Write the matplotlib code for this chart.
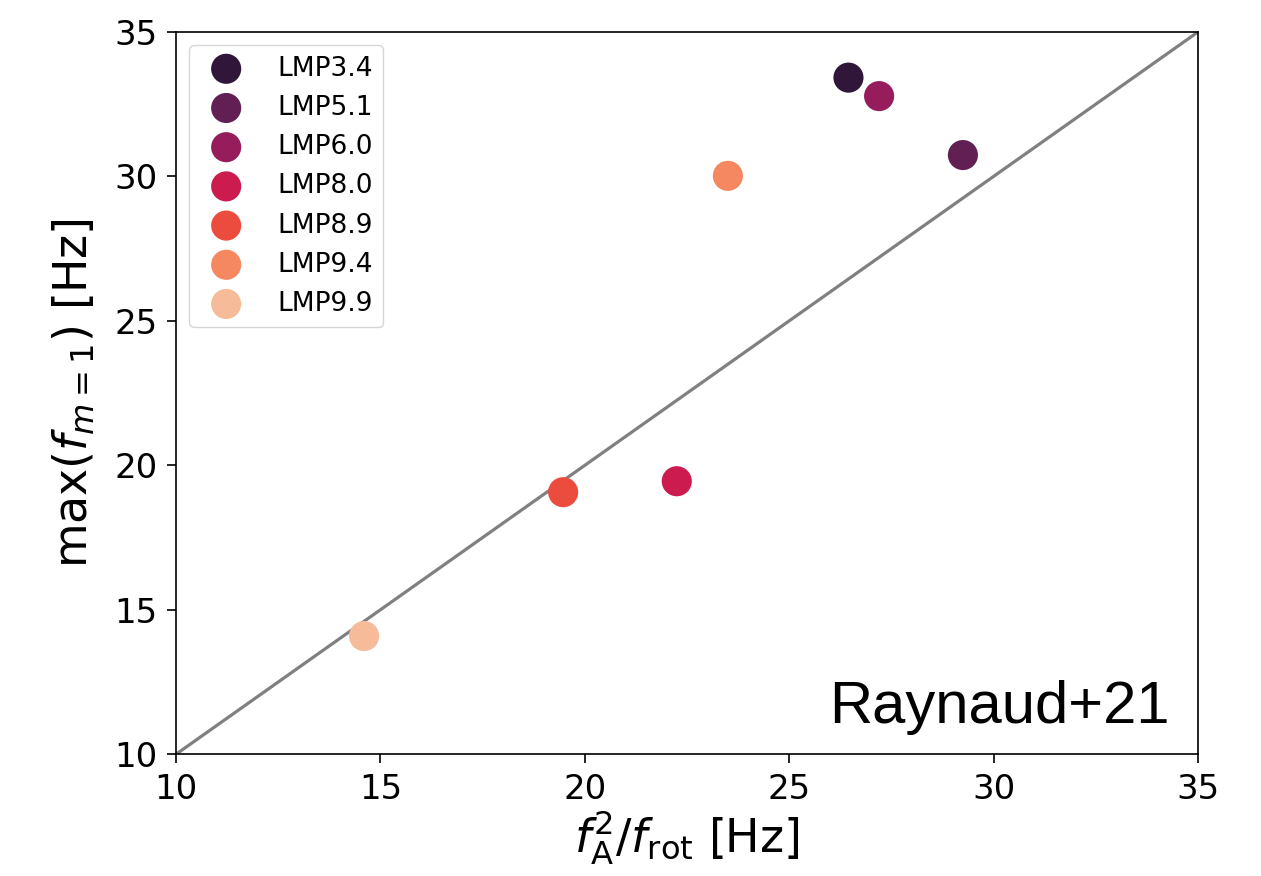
import matplotlib
matplotlib.use("Agg")
import matplotlib.pyplot as plt
import seaborn as sns
import numpy as np

# data
models = ["LMP3.4", "LMP5.1", "LMP6.0", "LMP8.0", "LMP8.9", "LMP9.4", "LMP9.9"]
f_alfven = [26.45, 29.25, 27.2, 22.25, 19.47, 23.5, 14.6]   # f_A^2 / f_rot
f_max = [33.42, 30.74, 32.78, 19.45, 19.07, 30.02, 14.09]   # max(f_m=1)

colors = sns.color_palette("rocket", len(models))

fig = plt.figure(figsize=(12.61, 8.76), dpi=100)
ax = fig.add_axes([0.1396, 0.139, 0.8104, 0.8245])

line = np.array([10, 35])
ax.plot(line, line, color="grey", lw=2.3, zorder=1)

for name, x, y, c in zip(models, f_alfven, f_max, colors):
    ax.scatter(x, y, s=470, color=c, label=name, edgecolors="none", zorder=3)

ax.set_xlim(10, 35)
ax.set_ylim(10, 35)
ax.set_xticks([10, 15, 20, 25, 30, 35])
ax.set_yticks([10, 15, 20, 25, 30, 35])
ax.tick_params(labelsize=24.5, length=6.5, width=1.2, pad=7)
for s in ax.spines.values():
    s.set_linewidth(1.2)

ax.set_xlabel(r"$f_{\rm A}^2/f_{\rm rot}$ [Hz]", fontsize=33, labelpad=2)
ax.set_ylabel(r"max($f_{m=1}$) [Hz]", fontsize=33, labelpad=12)

ax.text(0.9726, 0.043, "Raynaud+21", transform=ax.transAxes,
        ha="right", va="baseline", fontsize=43, family="Liberation Sans")

ax.legend(loc="upper left", fontsize=19, borderpad=0.4, labelspacing=0.5,
          handletextpad=0.93, borderaxespad=0.5)

fig.savefig("out.png", dpi=100)
